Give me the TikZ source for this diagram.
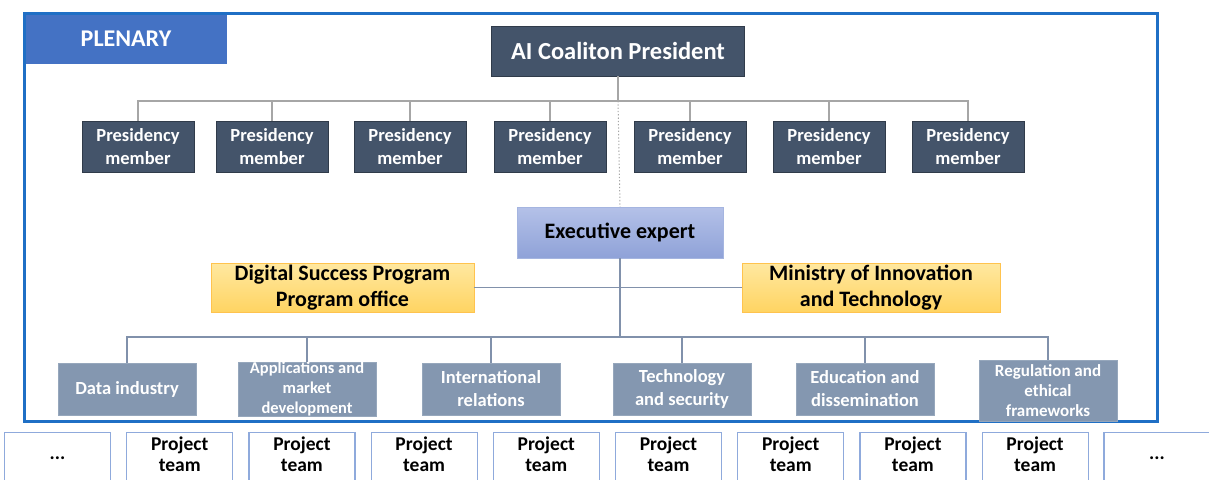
\documentclass[tikz,border=0pt]{standalone}
\usepackage{fontspec}
\setmainfont{Carlito}
\definecolor{slate}{HTML}{44546A}
\definecolor{plenblue}{HTML}{4472C4}
\definecolor{framblue}{HTML}{1F6FC5}
\definecolor{unitgray}{HTML}{8497B0}
\definecolor{linegray}{HTML}{A6A6A6}
\definecolor{lineblue}{HTML}{8191AB}
\definecolor{teamblue}{HTML}{8FAADC}
\definecolor{exectop}{HTML}{B4C1E8}
\definecolor{execbot}{HTML}{8FA2D8}
\definecolor{offtop}{HTML}{FFE8A0}
\definecolor{offbot}{HTML}{FFD462}
\begin{document}
\begin{tikzpicture}[x=1pt, y=-1pt,
    box/.style={rectangle, draw, inner sep=0pt, align=center},
    member/.style={box, fill=slate, draw=slate!70!black, text=white,
        minimum width=112, minimum height=51,
        font=\bfseries\fontsize{18.5}{23}\selectfont},
    unit/.style={box, fill=unitgray, draw=unitgray!85!white, text=white,
        minimum width=138, minimum height=52,
        font=\bfseries\fontsize{18.5}{23}\selectfont},
    office/.style={box, top color=offtop, bottom color=offbot,
        draw=offbot!80!orange, minimum width=260, minimum height=49,
        font=\bfseries\fontsize{22}{26}\selectfont},
    team/.style={box, draw=teamblue, line width=1.2pt, fill=white,
        minimum width=106, minimum height=52, anchor=north,
        font=\bfseries\fontsize{19.5}{21}\selectfont},
    topline/.style={linegray, line width=1.3pt},
    lowline/.style={lineblue, line width=1.3pt}
]
    \useasboundingbox (0,0) rectangle (1209,479);
    \clip (0,0) rectangle (1209,479);
    % plenary frame
    \draw[framblue, line width=3pt] (24,13) rectangle (1157,421);
    \node[box, fill=plenblue, draw=plenblue, text=white, minimum width=200, minimum height=48,
        font=\bfseries\fontsize{24}{28}\selectfont] (plenary) at (126,39) {PLENARY};
    % presidency
    \node[box, fill=slate, draw=slate!70!black, text=white, minimum width=253, minimum height=50,
        font=\bfseries\fontsize{24.5}{28}\selectfont] (pres) at (618,51) {AI Coaliton President};
    \foreach \x [count=\i] in {138,272,410,550,690,829,968}
        \node[member] (m\i) at (\x,146.5) {Presidency\\member};
    \coordinate (topbar) at (618,101);
    \draw[topline] (m1.north) |- (topbar) -| (m7.north);
    \foreach \i in {2,...,6}
        \draw[topline] (m\i.north) -- (m\i.north |- topbar);
    \draw[topline] (pres.south) -- (topbar);
    % executive level
    \node[box, top color=exectop, bottom color=execbot, draw=execbot!80!white,
        minimum width=206, minimum height=51,
        font=\bfseries\fontsize{22}{26}\selectfont] (exec) at (620,232.5) {Executive expert};
    \draw[topline, dotted, line width=1pt] (topbar) -- (exec.north);
    \node[office, minimum width=263] (dsp) at (342.5,287.5) {Digital Success Program\\Program office};
    \node[office, minimum width=258] (mit) at (871,287.5) {Ministry of Innovation\\and Technology};
    \coordinate (lowbar) at (620,337);
    \draw[lowline] (exec.south) -- (lowbar);
    \draw[lowline] (dsp.east) -- (dsp.east -| exec.south);
    \draw[lowline] (mit.west) -- (mit.west -| exec.south);
    % units
    \node[unit] (u1) at (127,389) {Data industry};
    \node[unit, font=\bfseries\fontsize{16.5}{20}\selectfont] (u2) at (307,389) {Applications and\\market\\development};
    \node[unit] (u3) at (491,389) {International\\relations};
    \node[unit] (u4) at (682,389) {Technology\\and security};
    \node[unit] (u5) at (865,389) {Education and\\dissemination};
    \node[unit, minimum height=61, font=\bfseries\fontsize{17}{20}\selectfont] (u6) at (1048,390.5) {Regulation and\\ethical\\frameworks};
    \draw[lowline] (u1.north) |- (lowbar) -| (u6.north);
    \foreach \i in {2,...,5}
        \draw[lowline] (u\i.north) -- (u\i.north |- lowbar);
    % project teams
    \node[team] (t0) at (57.5,432) {...};
    \foreach \i in {1,...,8}
        \node[team, minimum height=0pt, inner ysep=4pt] (t\i) at (57.5+122.2*\i,432) {Project\\team\\\mbox{}};
    \node[team] (t9) at (1157,432) {...};
\end{tikzpicture}
\end{document}
